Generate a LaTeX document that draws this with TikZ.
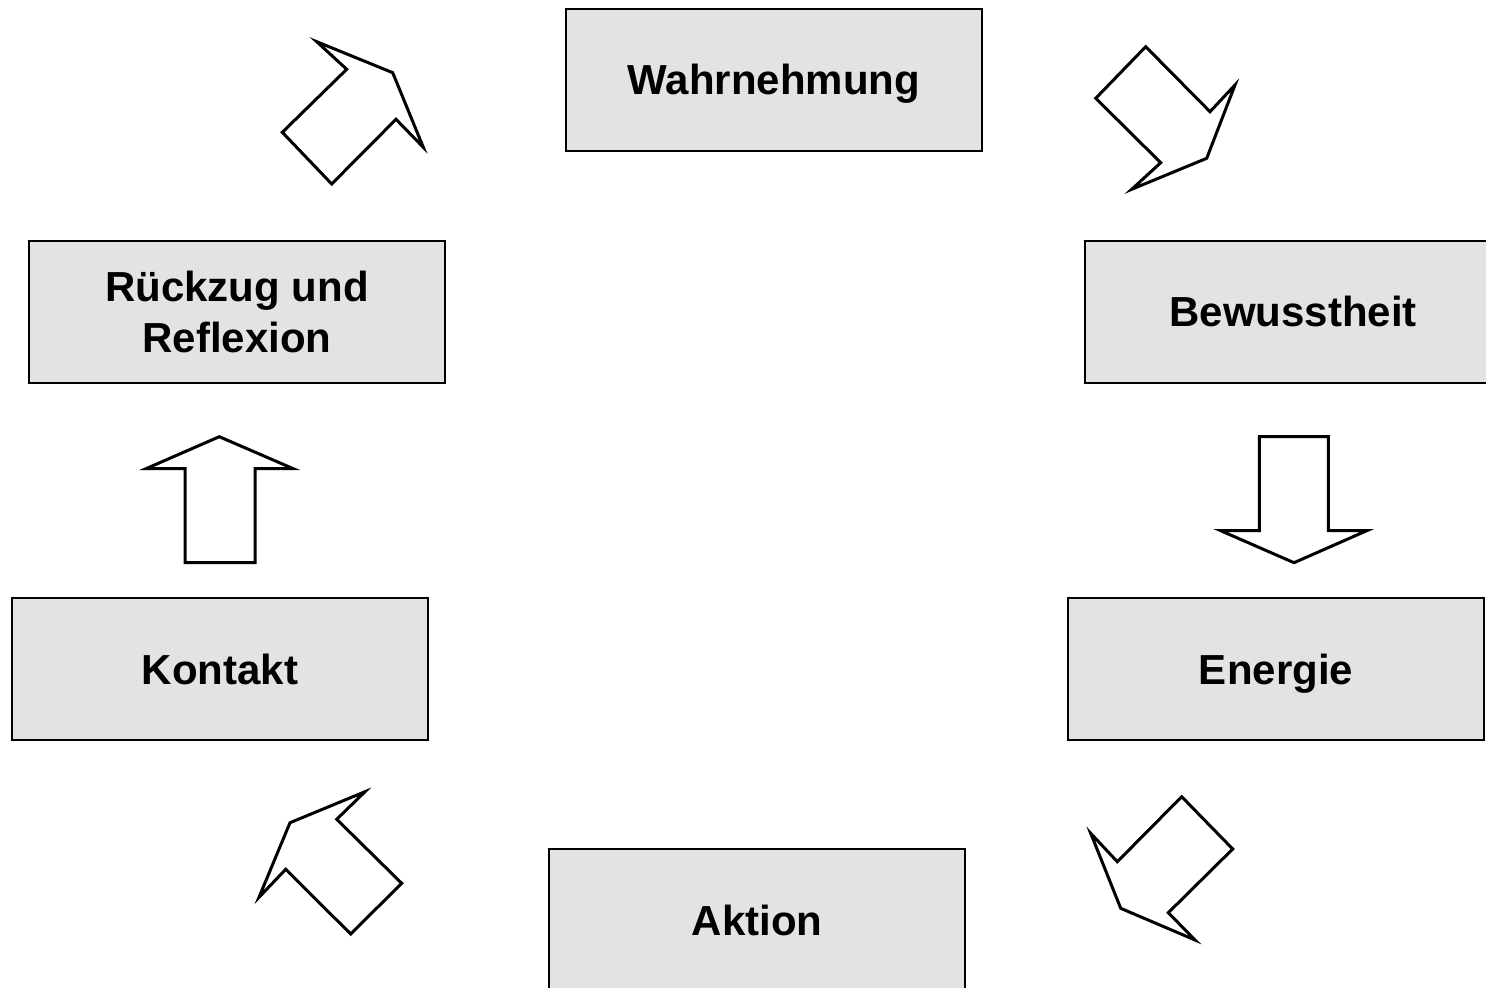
\documentclass[tikz,border=0pt]{standalone}
\usepackage{fontspec}
\setmainfont{Liberation Sans}
\definecolor{boxgray}{HTML}{E3E3E3}
\begin{document}
\begin{tikzpicture}[x=0.5pt,y=-0.5pt,
  stage/.style={draw=black,line width=1pt,fill=boxgray,rectangle,
    minimum width=208pt,minimum height=71pt,inner sep=0pt,
    align=center,font=\fontsize{21}{25.5}\selectfont\bfseries},
  oneline/.style={text height=15pt,text depth=0pt},
  blockarrow/.style={draw=black,line width=1.5pt,fill=white,line join=miter}]
\useasboundingbox (0,0) rectangle (1486,988);
\clip (0,0) rectangle (1486,988);

% stages of the cycle
\node[stage,oneline] (wahr) at (774,80) {Wahrnehmung};
\node[stage,oneline] (bew)  at (1293,312) {Bewusstheit};
\node[stage,oneline] (ener) at (1276,669) {Energie};
\node[stage,oneline] (akt)  at (757,920) {Aktion};
\node[stage,oneline] (kont) at (220,669) {Kontakt};
\node[stage] (rueck) at (237,312) {Rückzug und\\Reflexion};

% block arrows between the stages
% Wahrnehmung -> Bewusstheit
\draw[blockarrow] (1145.7,46.7) -- (1210,111.7) -- (1235,85) -- (1206.7,158.3)
  -- (1131.7,189.3) -- (1160.7,162.7) -- (1095.7,98.3) -- cycle;
% Bewusstheit -> Energie
\draw[blockarrow] (1259.3,436.7) -- (1328.3,436.7) -- (1328.3,530.7) -- (1366.7,530.7)
  -- (1294,562.7) -- (1220.7,530.7) -- (1259.3,530.7) -- cycle;
% Energie -> Aktion
\draw[blockarrow] (1181.7,796.7) -- (1232.7,849) -- (1168.3,912.7) -- (1195,940)
  -- (1120.7,908.3) -- (1090.7,833.3) -- (1117.3,861.7) -- cycle;
% Aktion -> Kontakt
\draw[blockarrow] (365,791.7) -- (336.7,819.3) -- (401.7,883.3) -- (350.7,934)
  -- (285.7,869.3) -- (259,897.3) -- (290,822.7) -- cycle;
% Kontakt -> Rueckzug
\draw[blockarrow] (219.3,436.7) -- (293.3,468.7) -- (255,468.7) -- (255,562.7)
  -- (185,562.7) -- (185,468.7) -- (146,468.7) -- cycle;
% Rueckzug -> Wahrnehmung
\draw[blockarrow] (316.7,41.7) -- (392.7,72.7) -- (423.3,147.3) -- (396,119.3)
  -- (331.7,184) -- (282.3,132.3) -- (346.7,69.3) -- cycle;
\end{tikzpicture}
\end{document}
